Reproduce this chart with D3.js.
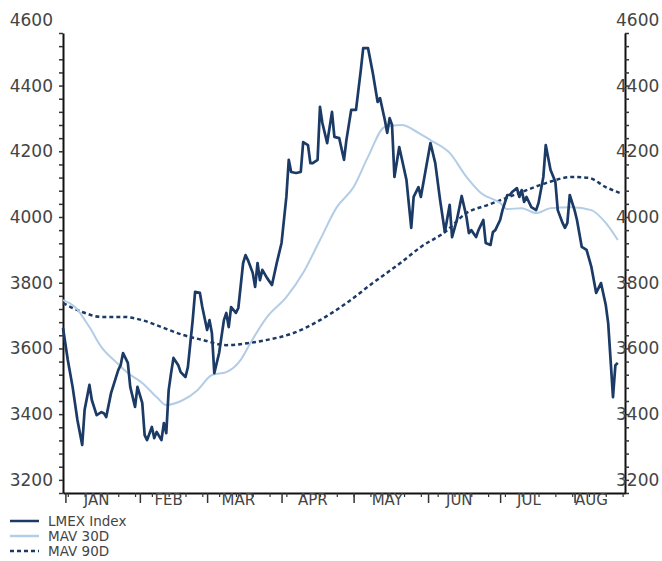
<!DOCTYPE html>
<html>
<head>
<meta charset="utf-8">
<script src="https://cdn.jsdelivr.net/npm/d3@7"></script>
<style>
body { margin: 0; background: #fff; }
text { font-family: "DejaVu Sans", sans-serif; fill: #444; }
</style>
</head>
<body>
<svg class="chart" width="662" height="561"></svg>
<script>
// days are offsets from Jan 1, values are index levels
var lmexDays = [-1, 1, 3, 5, 7, 8, 10, 11, 13, 15, 16, 17, 19, 22, 23, 24, 26, 27, 29, 30,
    32, 33, 34, 36, 37, 38, 40, 41, 42, 43, 44, 45, 47, 48, 50, 51, 53, 54, 56, 57,
    59, 60, 61, 62, 64, 66, 67, 68, 69, 71, 72, 74, 75, 76, 78, 79, 80, 81, 82, 84,
    86, 88, 90, 92, 93, 94, 96, 98, 99, 101, 102, 103, 105, 106, 107, 109, 111, 112, 114, 116,
    117, 119, 121, 123, 124, 126, 128, 130, 131, 133, 134, 135, 136, 137, 139, 142, 144, 145, 147, 148,
    150, 152, 154, 156, 158, 160, 161, 163, 165, 167, 168, 169, 171, 172, 174, 175, 177, 178, 179, 181,
    182, 184, 185, 186, 188, 189, 190, 191, 192, 194, 196, 197, 199, 200, 202, 204, 205, 207, 208, 209,
    210, 212, 213, 215, 217, 219, 221, 223, 225, 226, 228, 229, 230];
var lmexValues = [3662, 3565, 3483, 3382, 3306, 3413, 3489, 3443, 3397, 3406, 3403, 3391, 3464, 3534, 3549, 3586, 3556, 3483, 3422, 3483,
    3434, 3336, 3321, 3361, 3327, 3346, 3321, 3373, 3342, 3473, 3525, 3571, 3549, 3528, 3513, 3543, 3686, 3772, 3769, 3726,
    3656, 3686, 3647, 3525, 3586, 3686, 3708, 3665, 3726, 3708, 3723, 3860, 3884, 3869, 3830, 3787, 3860, 3808, 3839, 3814,
    3793, 3860, 3921, 4061, 4174, 4137, 4134, 4137, 4228, 4219, 4164, 4164, 4174, 4335, 4286, 4225, 4320, 4244, 4240, 4174,
    4234, 4326, 4326, 4447, 4514, 4514, 4438, 4350, 4362, 4295, 4256, 4301, 4280, 4122, 4213, 4113, 3967, 4061, 4091, 4061,
    4143, 4225, 4164, 4052, 3954, 4037, 3939, 3991, 4064, 4000, 3951, 3960, 3939, 3960, 3991, 3921, 3915, 3954, 3960, 3991,
    4021, 4067, 4067, 4076, 4088, 4061, 4082, 4046, 4061, 4030, 4021, 4043, 4122, 4219, 4143, 4107, 4021, 3982, 3967, 3982,
    4067, 4021, 3991, 3909, 3900, 3848, 3769, 3799, 3732, 3677, 3452, 3549, 3556];

var mav30Days = [-1, 4, 10, 15, 21, 26, 32, 38, 42, 49, 55, 61, 67, 73, 77, 84, 92, 99, 106, 113,
    120, 126, 133, 140, 147, 152, 160, 167, 173, 181, 184, 190, 196, 202, 211, 219, 225, 230];
var mav30Values = [3747, 3726, 3665, 3604, 3559, 3525, 3495, 3452, 3428, 3443, 3473, 3519, 3528, 3565, 3616, 3696, 3756, 3830, 3930, 4030,
    4091, 4183, 4274, 4280, 4256, 4234, 4195, 4122, 4073, 4043, 4024, 4027, 4012, 4027, 4030, 4021, 3982, 3930];

var mav90Days = [-1, 7, 15, 24, 32, 40, 49, 57, 67, 76, 84, 95, 106, 117, 128, 140, 148, 158, 167, 176,
    190, 200, 211, 218, 225, 231];
var mav90Values = [3738, 3711, 3696, 3696, 3686, 3665, 3641, 3626, 3610, 3616, 3626, 3647, 3686, 3738, 3799, 3863, 3909, 3954, 4012, 4037,
    4076, 4103, 4122, 4119, 4091, 4073];

var monthLabels = ["JAN", "FEB", "MAR", "APR", "MAY", "JUN", "JUL", "AUG"];
var monthLabelDays = [13, 43, 72, 103, 134, 164, 193, 219];
var yLabels = [3200, 3400, 3600, 3800, 4000, 4200, 4400, 4600];
var legendNames = ["LMEX Index", "MAV 30D", "MAV 90D"];

var navy = "#1b3a66", light = "#b3cde6";

var jan1 = new Date(2011, 0, 1);
function toDate(d) { return d3.timeDay.offset(jan1, d); }
function zip(days, vals) { return days.map(function(d, i) { return { date: toDate(d), value: vals[i] }; }); }

var x = d3.scaleTime()
    .domain([toDate(-1), toDate(233)])
    .range([63, 625]);

var y = d3.scaleLinear()
    .domain([3160, 4560])
    .range([493, 33]);

var svg = d3.select(".chart");

// minor ticks every 40 on both sides
var minor = d3.range(3160, 4561, 40);

svg.append("g")
    .attr("transform", "translate(63,0)")
    .call(d3.axisLeft(y).tickValues(minor).tickSize(4).tickSizeOuter(0).tickFormat(""))
    .call(function(g) { g.select(".domain").attr("stroke", "#111").attr("stroke-width", 2); })
    .call(function(g) { g.selectAll(".tick line").attr("stroke", "#333").attr("stroke-width", 1.5); });

svg.append("g")
    .attr("transform", "translate(63,0)")
    .call(d3.axisLeft(y).tickValues(yLabels).tickSize(0).tickPadding(10).tickFormat(d3.format("d")))
    .call(function(g) { g.select(".domain").remove(); })
    .selectAll("text")
    .style("font-size", "17px")
    .attr("fill", "#444");

svg.append("g")
    .attr("transform", "translate(625,0)")
    .call(d3.axisRight(y).tickValues(minor).tickSize(4).tickSizeOuter(0).tickFormat(""))
    .call(function(g) { g.select(".domain").attr("stroke", "#111").attr("stroke-width", 2); })
    .call(function(g) { g.selectAll(".tick line").attr("stroke", "#333").attr("stroke-width", 1.5); });

// right labels sit over the axis line
svg.append("g")
    .attr("transform", "translate(625,0)")
    .call(d3.axisRight(y).tickValues(yLabels).tickSize(0).tickPadding(-9).tickFormat(d3.format("d")))
    .call(function(g) { g.select(".domain").remove(); })
    .selectAll("text")
    .style("font-size", "17px")
    .attr("fill", "#444");

// x axis: weekly ticks, longer month ticks
var xAxisY = 493;
svg.append("g")
    .attr("transform", "translate(0," + xAxisY + ")")
    .call(d3.axisBottom(x).tickValues(d3.timeWeek.range(toDate(-1), toDate(233))).tickSize(4).tickSizeOuter(0).tickFormat(""))
    .call(function(g) { g.select(".domain").attr("stroke", "#111").attr("stroke-width", 2); })
    .call(function(g) { g.selectAll(".tick line").attr("stroke", "#333").attr("stroke-width", 1.2); });

svg.append("g")
    .attr("transform", "translate(0," + xAxisY + ")")
    .call(d3.axisBottom(x).tickValues(d3.timeMonth.range(toDate(-1), toDate(233))).tickSize(10).tickSizeOuter(0).tickFormat(""))
    .call(function(g) { g.select(".domain").remove(); })
    .call(function(g) { g.selectAll(".tick line").attr("stroke", "#333").attr("stroke-width", 1.5); });

svg.append("g")
  .selectAll("text")
    .data(monthLabels)
  .enter().append("text")
    .attr("x", function(d, i) { return x(toDate(monthLabelDays[i])); })
    .attr("y", 500)
    .attr("dy", ".35em")
    .attr("text-anchor", "middle")
    .style("font-size", "15px")
    .text(function(d) { return d; });

var line = d3.line()
    .x(function(d) { return x(d.date); })
    .y(function(d) { return y(d.value); });

var smooth = d3.line()
    .curve(d3.curveMonotoneX)
    .x(function(d) { return x(d.date); })
    .y(function(d) { return y(d.value); });

svg.append("path")
    .datum(zip(mav90Days, mav90Values))
    .attr("d", smooth)
    .attr("fill", "none")
    .attr("stroke", navy)
    .attr("stroke-width", 2.5)
    .attr("stroke-dasharray", "4,3");

svg.append("path")
    .datum(zip(mav30Days, mav30Values))
    .attr("d", smooth)
    .attr("fill", "none")
    .attr("stroke", light)
    .attr("stroke-width", 2);

svg.append("path")
    .datum(zip(lmexDays, lmexValues))
    .attr("d", line)
    .attr("fill", "none")
    .attr("stroke", navy)
    .attr("stroke-width", 2.7)
    .attr("stroke-linejoin", "round");

// legend
var legendStyles = [
    { stroke: navy, dash: null, w: 2.5 },
    { stroke: light, dash: null, w: 2.5 },
    { stroke: navy, dash: "4,3", w: 2.5 }
];
var legend = svg.selectAll(".legend")
    .data(legendNames)
  .enter().append("g")
    .attr("class", "legend")
    .attr("transform", function(d, i) { return "translate(0," + (521 + i * 15) + ")"; });

legend.append("line")
    .attr("x1", 10)
    .attr("x2", 39)
    .attr("stroke", function(d, i) { return legendStyles[i].stroke; })
    .attr("stroke-width", function(d, i) { return legendStyles[i].w; })
    .attr("stroke-dasharray", function(d, i) { return legendStyles[i].dash; });

legend.append("text")
    .attr("x", 48)
    .attr("dy", ".35em")
    .style("font-size", "13.5px")
    .text(function(d) { return d; });
</script>
</body>
</html>
